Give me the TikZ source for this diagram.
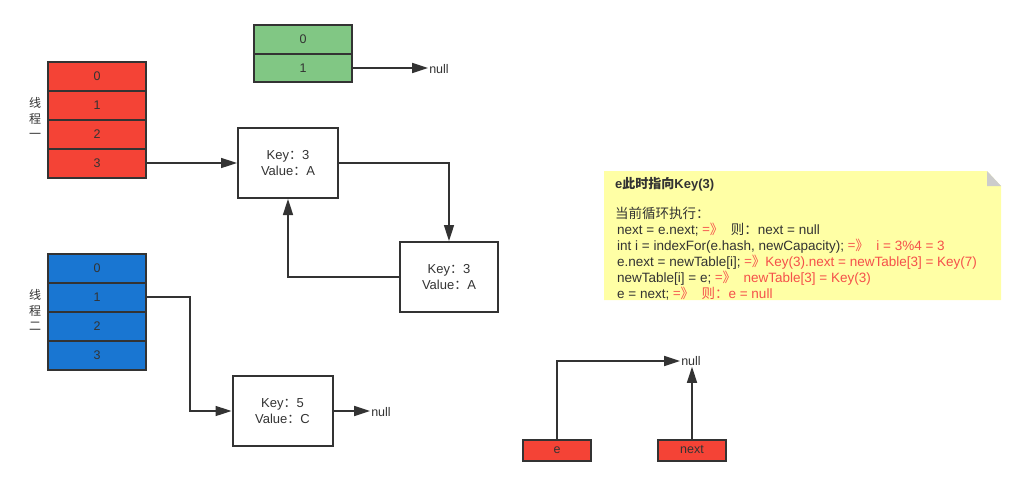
\documentclass[tikz,border=0pt]{standalone}
\usepackage{fontspec}
\setmainfont{Liberation Sans}
\newfontfamily\cjk{Noto Sans CJK SC}
\usetikzlibrary{arrows.meta}
\definecolor{ink}{HTML}{333333}
\definecolor{redc}{HTML}{F44336}
\definecolor{bluec}{HTML}{1976D2}
\definecolor{greenc}{HTML}{81C784}
\definecolor{notey}{HTML}{FFFFA5}
\definecolor{foldg}{HTML}{CCCCCC}
\definecolor{hl}{HTML}{F5504A}
\newcommand{\fc}{{\cjk ：}}
\newcommand{\arr}{{\cjk =》}}
\begin{document}
\begin{tikzpicture}[x=1pt,y=-1pt,
  every node/.style={text=ink, font=\fontsize{12.5}{14}\selectfont},
  cell/.style={draw=ink, line width=2pt, minimum width=98pt, minimum height=29pt, inner sep=0pt},
  entry/.style={draw=ink, fill=white, line width=2pt, minimum width=100pt, minimum height=70pt, inner sep=0pt, align=center, font=\fontsize{13}{16}\selectfont},
  ptr/.style={draw=ink, fill=redc, line width=2pt, minimum width=68pt, minimum height=21pt, inner sep=0pt},
  link/.style={draw=ink, line width=1.6pt, -{Triangle[length=16pt,width=10pt]}},
  vlabel/.style={align=center, font=\cjk\fontsize{12}{15.5}\selectfont},
  nullt/.style={inner sep=1pt},
  noteline/.style={anchor=base west, inner sep=0pt, font=\fontsize{13.5}{16}\selectfont}]
\useasboundingbox (0,0) rectangle (1026,485);

% thread one table
\node[cell, fill=redc] (r0) at (97,76) {0};
\node[cell, fill=redc] (r1) at (97,105) {1};
\node[cell, fill=redc] (r2) at (97,134) {2};
\node[cell, fill=redc] (r3) at (97,163) {3};
\node[vlabel] (t1) at (35,118) {线\\程\\一};

% thread two table
\node[cell, fill=bluec] (b0) at (97,268) {0};
\node[cell, fill=bluec] (b1) at (97,297) {1};
\node[cell, fill=bluec] (b2) at (97,326) {2};
\node[cell, fill=bluec] (b3) at (97,355) {3};
\node[vlabel] (t2) at (35,310) {线\\程\\二};

% new table
\node[cell, fill=greenc, minimum height=28.5pt] (g0) at (303,39.5) {0};
\node[cell, fill=greenc, minimum height=28.5pt] (g1) at (303,68) {1};
\node[nullt] (gnull) at (439,69) {null};
\draw[link] (g1.east) -- (g1.east -| gnull.west);

% entries
\node[entry] (k1) at (288,163) {Key\fc 3\\Value\fc A};
\node[entry, minimum width=98pt] (k2) at (449,277) {Key\fc 3\\Value\fc A};
\node[entry] (k3) at (282.5,411) {Key\fc 5\\Value\fc C};
\node[nullt] (knull) at (381,412) {null};

\draw[link] (r3.east) -- (k1.west);
\draw[link] (k1.east) -| (k2.north);
\draw[link] (k2.west) -| (k1.south);
\draw[link] (b1.east) -- ++(43,0) |- (k3.west);
\draw[link] (k3.east) -- (k3.east -| knull.west);

% local variables
\node[ptr] (e) at (557,450) {e};
\node[ptr] (nx) at (692,450) {next};
\node[nullt] (enull) at (691,361) {null};
\draw[link] (e.north) |- (enull.west);
\draw[link] (nx.north) -- (nx.north |- enull.south);

% note
\fill[notey] (604,171) -- (987,171) -- (1001,186) -- (1001,300) -- (604,300) -- cycle;
\fill[foldg] (987,171) -- (987,186) -- (1001,186) -- cycle;
\node[noteline, font=\bfseries\fontsize{13}{16}\selectfont] (n0) at (615,188) {e{\cjk\bfseries 此时指向}Key(3)};
\node[noteline] (n1) at (615,218) {{\cjk 当前循环执行：}};
\node[noteline] (n2) at (617,234) {next = e.next; \textcolor{hl}{\arr}\ \ {\cjk 则}\fc next = null};
\node[noteline] (n3) at (617,250) {int i = indexFor(e.hash, newCapacity); \textcolor{hl}{\arr\ \ i = 3\%4 = 3}};
\node[noteline] (n4) at (617,266) {e.next = newTable[i]; \textcolor{hl}{\arr Key(3).next = newTable[3] = Key(7)}};
\node[noteline] (n5) at (617,282) {newTable[i] = e; \textcolor{hl}{\arr\ \ newTable[3] = Key(3)}};
\node[noteline] (n6) at (617,298) {e = next; \textcolor{hl}{\arr\ \ {\cjk 则}\fc e = null}};
\end{tikzpicture}
\end{document}
